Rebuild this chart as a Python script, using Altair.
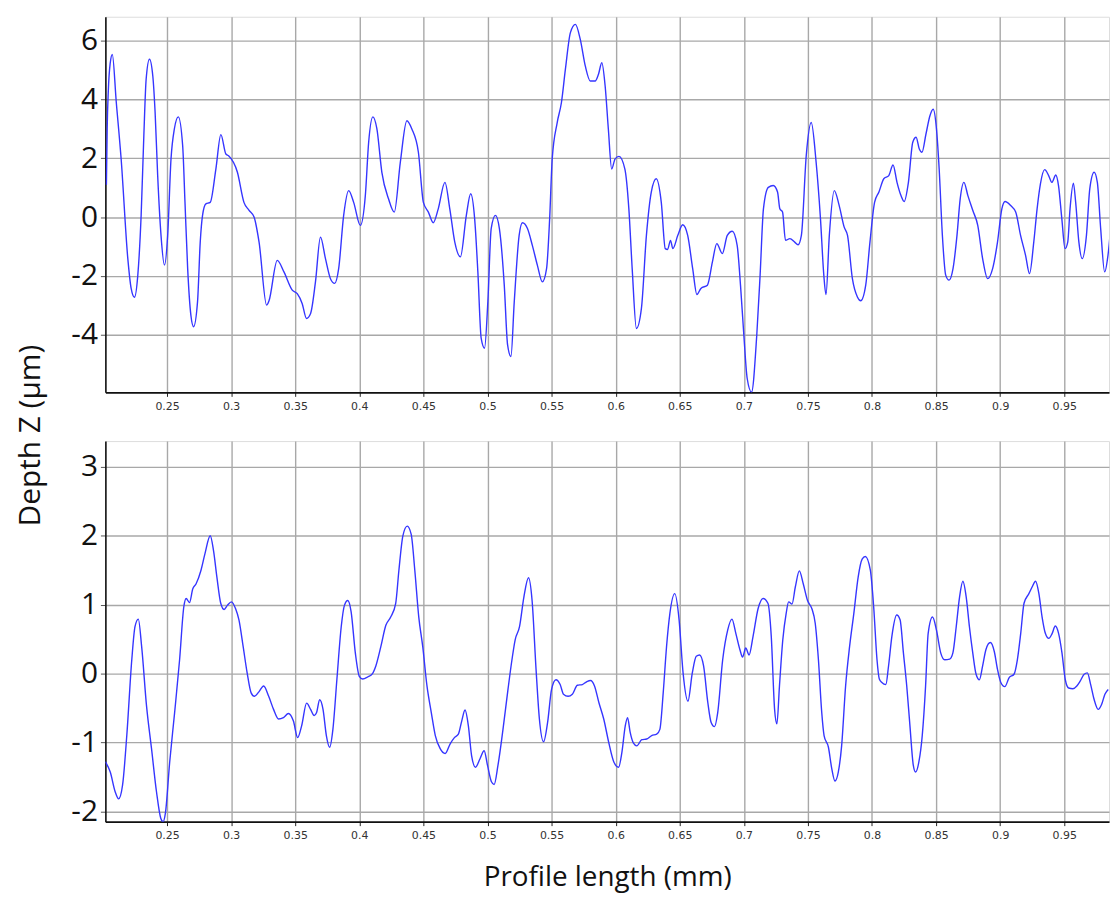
import altair as alt
import pandas as pd

# ---- data ----
top_x = [0.2027, 0.2033, 0.2042, 0.2056, 0.2073, 0.2104, 0.2142, 0.2194, 0.2220, 0.2246,
         0.2272, 0.2298, 0.2319, 0.2337, 0.2363, 0.2389, 0.2407, 0.2427, 0.2453, 0.2480,
         0.2505, 0.2531, 0.2557, 0.2588, 0.2622, 0.2640, 0.2661, 0.2686, 0.2707, 0.2738,
         0.2759, 0.2777, 0.2803, 0.2837, 0.2881, 0.2920, 0.2959, 0.2980, 0.3049, 0.3100,
         0.3140, 0.3179, 0.3218, 0.3277, 0.3295, 0.3360, 0.3412, 0.3477, 0.3516, 0.3554,
         0.3588, 0.3620, 0.3658, 0.3697, 0.3736, 0.3775, 0.3808, 0.3839, 0.3878, 0.3917,
         0.3956, 0.4008, 0.4047, 0.4073, 0.4106, 0.4137, 0.4176, 0.4228, 0.4273, 0.4320,
         0.4371, 0.4410, 0.4461, 0.4500, 0.4539, 0.4577, 0.4616, 0.4668, 0.4706, 0.4745,
         0.4789, 0.4835, 0.4869, 0.4900, 0.4925, 0.4951, 0.4977, 0.5003, 0.5029, 0.5062,
         0.5093, 0.5131, 0.5157, 0.5183, 0.5209, 0.5247, 0.5273, 0.5312, 0.5350, 0.5389,
         0.5428, 0.5461, 0.5485, 0.5505, 0.5544, 0.5577, 0.5608, 0.5647, 0.5686, 0.5724,
         0.5763, 0.5802, 0.5840, 0.5866, 0.5892, 0.5918, 0.5943, 0.5969, 0.5995, 0.6026,
         0.6072, 0.6103, 0.6129, 0.6162, 0.6201, 0.6240, 0.6278, 0.6317, 0.6356, 0.6387,
         0.6405, 0.6428, 0.6446, 0.6485, 0.6523, 0.6562, 0.6601, 0.6634, 0.6665, 0.6716,
         0.6755, 0.6789, 0.6832, 0.6871, 0.6910, 0.6948, 0.6974, 0.7000, 0.7026, 0.7060,
         0.7101, 0.7127, 0.7153, 0.7191, 0.7230, 0.7263, 0.7281, 0.7302, 0.7325, 0.7359,
         0.7397, 0.7423, 0.7449, 0.7487, 0.7526, 0.7564, 0.7598, 0.7624, 0.7641, 0.7667,
         0.7706, 0.7744, 0.7783, 0.7809, 0.7847, 0.7886, 0.7912, 0.7951, 0.7984, 0.8020,
         0.8054, 0.8092, 0.8131, 0.8164, 0.8195, 0.8226, 0.8251, 0.8284, 0.8318, 0.8344,
         0.8369, 0.8390, 0.8421, 0.8452, 0.8477, 0.8503, 0.8524, 0.8549, 0.8575, 0.8601,
         0.8632, 0.8663, 0.8688, 0.8717, 0.8748, 0.8786, 0.8825, 0.8863, 0.8902, 0.8941,
         0.8979, 0.9013, 0.9038, 0.9082, 0.9121, 0.9159, 0.9198, 0.9229, 0.9262, 0.9288,
         0.9314, 0.9347, 0.9378, 0.9403, 0.9434, 0.9455, 0.9481, 0.9506, 0.9527, 0.9545,
         0.9571, 0.9589, 0.9614, 0.9640, 0.9673, 0.9699, 0.9733, 0.9758, 0.9784, 0.9815,
         0.9841, 0.9871]
top_z = [1.10, 3.00, 4.30, 5.20, 5.52, 3.90, 1.97, -1.41, -2.42, -2.72,
         -1.97, 0.06, 2.76, 4.68, 5.36, 4.79, 3.55, 1.41, -0.62, -1.63,
         -0.62, 1.97, 2.99, 3.40, 2.42, 0.51, -1.75, -3.33, -3.72, -2.87,
         -0.85, 0.06, 0.45, 0.50, 1.63, 2.80, 2.14, 2.08, 1.52, 0.50,
         0.23, 0.00, -0.85, -2.99, -2.85, -1.47, -1.86, -2.48, -2.60, -2.93,
         -3.44, -3.27, -2.20, -0.68, -1.41, -2.09, -2.25, -1.75, 0.06, 0.90,
         0.50, -0.28, 0.73, 2.54, 3.40, 3.00, 1.52, 0.62, 0.17, 1.86,
         3.27, 2.99, 2.20, 0.50, 0.17, -0.19, 0.28, 1.18, 0.28, -0.85,
         -1.35, 0.06, 0.79, -0.06, -1.86, -4.12, -4.45, -2.87, -0.39, 0.06,
         -0.39, -2.31, -4.34, -4.73, -2.87, -0.62, -0.19, -0.39, -0.96, -1.63,
         -2.20, -1.75, -0.06, 1.97, 3.21, 3.89, 5.02, 6.26, 6.54, 6.03,
         5.13, 4.62, 4.62, 4.85, 5.24, 4.45, 2.99, 1.63, 1.97, 2.06,
         1.63, 0.28, -1.75, -3.78, -3.10, -0.62, 0.85, 1.30, 0.50, -1.07,
         -1.10, -0.79, -1.07, -0.62, -0.26, -0.62, -1.75, -2.63, -2.42, -2.31,
         -1.52, -0.90, -1.24, -0.62, -0.48, -0.96, -2.31, -4.00, -5.47, -5.94,
         -4.00, -1.97, 0.28, 1.01, 1.07, 0.85, 0.28, 0.17, -0.79, -0.73,
         -0.85, -0.94, -0.62, 2.09, 3.21, 1.86, -0.06, -1.97, -2.63, -0.62,
         0.90, 0.39, -0.34, -0.62, -2.09, -2.71, -2.84, -2.31, -0.85, 0.50,
         0.85, 1.30, 1.41, 1.77, 1.18, 0.73, 0.53, 1.18, 2.54, 2.71,
         2.31, 2.20, 2.82, 3.44, 3.66, 2.99, 1.63, -0.62, -1.97, -2.14,
         -1.75, -0.62, 0.62, 1.18, 0.73, 0.23, -0.28, -1.41, -2.09, -1.75,
         -0.85, 0.28, 0.53, 0.39, 0.17, -0.62, -1.30, -1.92, -0.85, 0.28,
         1.13, 1.61, 1.41, 1.18, 1.43, 1.07, -0.06, -1.07, -0.85, 0.28,
         1.15, 0.50, -0.85, -1.41, -0.62, 0.96, 1.52, 1.18, -0.39, -1.86,
         -1.30, 0.11]

bottom_x = [0.2019, 0.2057, 0.2096, 0.2122, 0.2153, 0.2186, 0.2225, 0.2250, 0.2276, 0.2302,
            0.2340, 0.2379, 0.2418, 0.2451, 0.2469, 0.2487, 0.2521, 0.2559, 0.2598, 0.2631,
            0.2649, 0.2675, 0.2701, 0.2726, 0.2765, 0.2796, 0.2837, 0.2863, 0.2889, 0.2919,
            0.2945, 0.2971, 0.3002, 0.3035, 0.3061, 0.3094, 0.3125, 0.3156, 0.3182, 0.3215,
            0.3254, 0.3293, 0.3331, 0.3370, 0.3408, 0.3447, 0.3486, 0.3519, 0.3550, 0.3589,
            0.3620, 0.3648, 0.3666, 0.3691, 0.3717, 0.3743, 0.3769, 0.3794, 0.3825, 0.3859,
            0.3884, 0.3910, 0.3936, 0.3969, 0.4000, 0.4026, 0.4065, 0.4103, 0.4129, 0.4168,
            0.4207, 0.4245, 0.4284, 0.4309, 0.4340, 0.4374, 0.4405, 0.4433, 0.4464, 0.4495,
            0.4528, 0.4562, 0.4593, 0.4631, 0.4670, 0.4709, 0.4742, 0.4773, 0.4799, 0.4825,
            0.4851, 0.4876, 0.4907, 0.4941, 0.4974, 0.5000, 0.5031, 0.5052, 0.5082, 0.5121,
            0.5160, 0.5191, 0.5216, 0.5250, 0.5284, 0.5320, 0.5348, 0.5379, 0.5405, 0.5438,
            0.5469, 0.5500, 0.5534, 0.5567, 0.5593, 0.5629, 0.5662, 0.5701, 0.5740, 0.5773,
            0.5804, 0.5835, 0.5869, 0.5907, 0.5946, 0.5985, 0.6023, 0.6049, 0.6075, 0.6093,
            0.6113, 0.6139, 0.6165, 0.6204, 0.6242, 0.6281, 0.6320, 0.6345, 0.6371, 0.6397,
            0.6423, 0.6461, 0.6495, 0.6526, 0.6564, 0.6598, 0.6629, 0.6655, 0.6686, 0.6719,
            0.6745, 0.6771, 0.6796, 0.6835, 0.6874, 0.6907, 0.6938, 0.6969, 0.6990, 0.7015,
            0.7041, 0.7072, 0.7111, 0.7150, 0.7188, 0.7214, 0.7240, 0.7258, 0.7278, 0.7304,
            0.7330, 0.7350, 0.7376, 0.7402, 0.7433, 0.7464, 0.7497, 0.7531, 0.7557, 0.7582,
            0.7608, 0.7626, 0.7660, 0.7686, 0.7711, 0.7737, 0.7763, 0.7794, 0.7825, 0.7858,
            0.7892, 0.7923, 0.7948, 0.7987, 0.8013, 0.8039, 0.8057, 0.8077, 0.8108, 0.8129,
            0.8155, 0.8193, 0.8219, 0.8245, 0.8271, 0.8296, 0.8322, 0.8340, 0.8366, 0.8392,
            0.8418, 0.8438, 0.8472, 0.8503, 0.8536, 0.8567, 0.8606, 0.8631, 0.8657, 0.8683,
            0.8709, 0.8735, 0.8760, 0.8786, 0.8812, 0.8838, 0.8863, 0.8889, 0.8923, 0.8954,
            0.8979, 0.9005, 0.9036, 0.9070, 0.9108, 0.9134, 0.9160, 0.9186, 0.9224, 0.9250,
            0.9276, 0.9302, 0.9327, 0.9353, 0.9379, 0.9405, 0.9430, 0.9456, 0.9482, 0.9508,
            0.9534, 0.9567, 0.9598, 0.9624, 0.9655, 0.9680, 0.9706, 0.9732, 0.9765, 0.9791,
            0.9817, 0.9843]
bottom_z = [-1.28, -1.43, -1.72, -1.82, -1.62, -0.90, 0.20, 0.68, 0.79, 0.39,
            -0.47, -1.09, -1.72, -2.10, -2.15, -2.03, -1.28, -0.57, 0.20, 0.97,
            1.09, 1.03, 1.23, 1.30, 1.50, 1.74, 2.00, 1.78, 1.40, 1.02,
            0.93, 0.99, 1.04, 0.94, 0.78, 0.39, 0.01, -0.28, -0.33, -0.27,
            -0.18, -0.33, -0.52, -0.66, -0.64, -0.58, -0.69, -0.93, -0.76, -0.43,
            -0.52, -0.61, -0.57, -0.38, -0.52, -0.90, -1.07, -0.81, -0.09, 0.68,
            0.99, 1.06, 0.90, 0.30, -0.04, -0.08, -0.05, 0.00, 0.11, 0.39,
            0.70, 0.82, 1.02, 1.50, 2.00, 2.14, 2.02, 1.50, 0.82, 0.39,
            -0.18, -0.57, -0.90, -1.09, -1.16, -1.02, -0.93, -0.88, -0.69, -0.53,
            -0.76, -1.19, -1.36, -1.24, -1.12, -1.33, -1.57, -1.61, -1.33, -0.81,
            -0.23, 0.20, 0.49, 0.68, 1.11, 1.39, 1.06, 0.06, -0.66, -0.99,
            -0.71, -0.23, -0.09, -0.16, -0.30, -0.33, -0.30, -0.17, -0.16, -0.12,
            -0.10, -0.18, -0.42, -0.66, -1.00, -1.28, -1.36, -1.14, -0.76, -0.64,
            -0.85, -1.01, -1.05, -0.96, -0.95, -0.90, -0.88, -0.81, -0.28, 0.39,
            0.87, 1.16, 0.78, 0.01, -0.40, 0.01, 0.25, 0.27, 0.11, -0.42,
            -0.71, -0.77, -0.57, 0.20, 0.63, 0.79, 0.58, 0.35, 0.24, 0.37,
            0.27, 0.54, 0.94, 1.09, 1.02, 0.54, -0.52, -0.73, -0.18, 0.49,
            0.87, 1.04, 1.01, 1.26, 1.49, 1.30, 1.06, 0.94, 0.73, 0.20,
            -0.57, -0.90, -1.07, -1.38, -1.56, -1.43, -1.05, -0.18, 0.39, 0.87,
            1.40, 1.66, 1.70, 1.50, 0.97, 0.20, -0.08, -0.13, -0.16, 0.11,
            0.54, 0.85, 0.78, 0.30, -0.18, -0.76, -1.33, -1.43, -1.28, -0.90,
            -0.18, 0.58, 0.82, 0.63, 0.30, 0.20, 0.21, 0.30, 0.68, 1.11,
            1.34, 1.11, 0.68, 0.30, -0.01, -0.09, 0.11, 0.35, 0.45, 0.32,
            0.06, -0.13, -0.19, -0.06, -0.01, 0.20, 0.58, 1.02, 1.16, 1.26,
            1.34, 1.16, 0.82, 0.58, 0.51, 0.58, 0.69, 0.58, 0.30, -0.09,
            -0.21, -0.22, -0.18, -0.11, -0.01, 0.01, -0.16, -0.37, -0.52, -0.45,
            -0.30, -0.23]

x_ticks = [0.25, 0.3, 0.35, 0.4, 0.45, 0.5, 0.55, 0.6, 0.65, 0.7, 0.75, 0.8, 0.85, 0.9, 0.95]
top_y_ticks = [-4, -2, 0, 2, 4, 6]
bottom_y_ticks = [-2, -1, 0, 1, 2, 3]

top_df = pd.DataFrame({"x": top_x, "z": top_z})
bottom_df = pd.DataFrame({"x": bottom_x, "z": bottom_z})

X_DOMAIN = [0.2019, 0.9849]
LINE_COLOR = "#3535ff"
GRID = "#a8a8a8"
BIG_FONT = "Open Sans"

ylab = "datum.value < 0 ? '-' + format(-datum.value, 'd') : format(datum.value, 'd')"


def x_axis(title=None, **kw):
    args = dict(values=x_ticks, format="~g", grid=True, gridColor=GRID, gridWidth=1.4,
                domainColor="#111111", domainWidth=1.6, tickColor="#222222", tickSize=4,
                labelFont="DejaVu Sans", labelFontSize=11, labelColor="#333333",
                labelPadding=4, labelFlush=False, labelOverlap=False)
    args.update(kw)
    args["title"] = title
    return alt.Axis(**args)


def y_axis(values, **kw):
    args = dict(values=values, grid=True, gridColor=GRID, gridWidth=1.4,
                domainColor="#111111", domainWidth=1.6, tickColor="#555555", tickSize=5,
                labelFont=BIG_FONT, labelFontSize=30, labelColor="#111111",
                labelPadding=3, labelExpr=ylab, labelFlush=False, labelOverlap=False)
    args.update(kw)
    return alt.Axis(**args)


top = alt.Chart(top_df).mark_line(
    color=LINE_COLOR, strokeWidth=1.4, interpolate="monotone", clip=True
).encode(
    x=alt.X("x:Q", scale=alt.Scale(domain=X_DOMAIN, nice=False, zero=False), axis=x_axis()),
    y=alt.Y("z:Q", scale=alt.Scale(domain=[-5.95, 6.8], nice=False, zero=False),
            axis=y_axis(top_y_ticks, title="Depth Z (µm)", titleFont=BIG_FONT,
                        titleFontSize=30, titleFontWeight="normal", titleColor="#111111",
                        titleAngle=270, titleAlign="center", titleBaseline="middle",
                        titleX=-75, titleY=421)),
).properties(width=1010, height=378)

bottom = alt.Chart(bottom_df).mark_line(
    color=LINE_COLOR, strokeWidth=1.4, interpolate="monotone", clip=True
).encode(
    x=alt.X("x:Q", scale=alt.Scale(domain=X_DOMAIN, nice=False, zero=False),
            axis=x_axis(title="Profile length (mm)", titleFont=BIG_FONT, titleFontSize=28,
                        titleFontWeight="normal", titleColor="#111111",
                        titleBaseline="middle", titleAlign="center", titleY=56)),
    y=alt.Y("z:Q", scale=alt.Scale(domain=[-2.15, 3.375], nice=False, zero=False),
            axis=y_axis(bottom_y_ticks, title=None)),
).properties(width=1010, height=383)

chart = alt.vconcat(top, bottom, spacing=49, bounds="flush").properties(
    padding={"left": 7, "top": 5, "right": 0, "bottom": 0}
).configure_view(stroke=None).configure(background="white")

chart.save("out.html", embed_options={"renderer": "svg", "actions": False})
